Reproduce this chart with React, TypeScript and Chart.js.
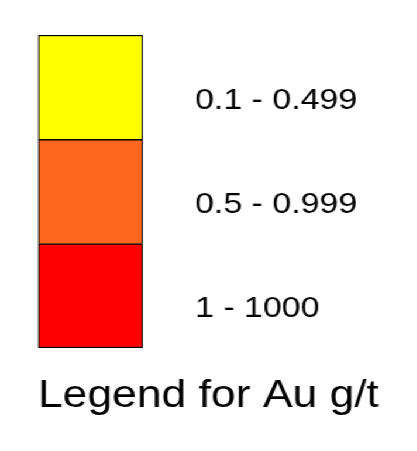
import React, { useEffect, useRef } from "react";
import { Chart, registerables } from "chart.js";

Chart.register(...registerables);

// Data (bottom to top)
const categories = ["Au g/t"];
const classLabels = ["1 - 1000", "0.5 - 0.999", "0.1 - 0.499"];
const classValues = [1, 1, 1];
const classColors = ["#FF0000", "#FF6620", "#FFFF00"];
const titleText = "Legend for Au g/t";

const STRETCH = 1.17;
const WIDTH = 417 / STRETCH;
const HEIGHT = 451;
const FONT = "'Liberation Sans', Arial, sans-serif";

export default function App() {
  const ref = useRef<HTMLCanvasElement | null>(null);

  useEffect(() => {
    if (!ref.current) return;
    const datasets = classLabels.map((lab, i) => ({
      label: lab,
      data: [classValues[i]],
      backgroundColor: classColors[i],
      borderColor: "#000000",
      borderWidth: i === 0 ? 1.5 : { top: 1.5, left: 1.5, right: 1.5, bottom: 0 },
      borderSkipped: false as any,
      barPercentage: 1,
      categoryPercentage: 1,
    }));
    const total = classValues.reduce((a, b) => a + b, 0);
    const tickVals = classValues.map((v, i) =>
      classValues.slice(0, i).reduce((a, b) => a + b, 0) + v / 2
    );

    const chart = new Chart(ref.current, {
      type: "bar",
      data: { labels: categories, datasets },
      options: {
        animation: false,
        responsive: true,
        maintainAspectRatio: false,
        layout: { padding: { top: 35, left: 32.5, right: 32.5, bottom: 31.3 } },
        plugins: {
          legend: { display: false },
          tooltip: { enabled: false },
          title: {
            display: true,
            position: "bottom",
            text: titleText,
            color: "#000000",
            font: { family: FONT, size: 38.5, weight: "normal" as any, lineHeight: 1.2 },
            padding: { top: 25.5, bottom: 0 },
          },
        },
        scales: {
          x: { display: false, stacked: true },
          y: {
            stacked: true,
            position: "right",
            min: 0,
            max: total,
            grid: {
              display: true,
              drawOnChartArea: false,
              drawTicks: true,
              tickLength: 44.5,
              color: "rgba(0,0,0,0)",
            },
            border: { display: false },
            afterBuildTicks: (scale: any) => {
              scale.ticks = tickVals.map((v) => ({ value: v }));
            },
            afterFit: (scale: any) => {
              scale.width = WIDTH - 32.5 - 122.2;
            },
            ticks: {
              color: "#000000",
              font: { family: FONT, size: 29 },
              padding: 0,
              labelOffset: 13.5,
              autoSkip: false,
              callback: (_v: any, idx: number) => classLabels[idx],
            },
          },
        },
      },
    });
    return () => chart.destroy();
  }, []);

  return (
    <div
      style={{
        position: "fixed",
        left: 0,
        top: 0,
        width: `${WIDTH}px`,
        height: `${HEIGHT}px`,
        transform: `scaleX(${STRETCH})`,
        transformOrigin: "0 0",
        background: "#ffffff",
      }}
    >
      <canvas ref={ref} />
    </div>
  );
}
